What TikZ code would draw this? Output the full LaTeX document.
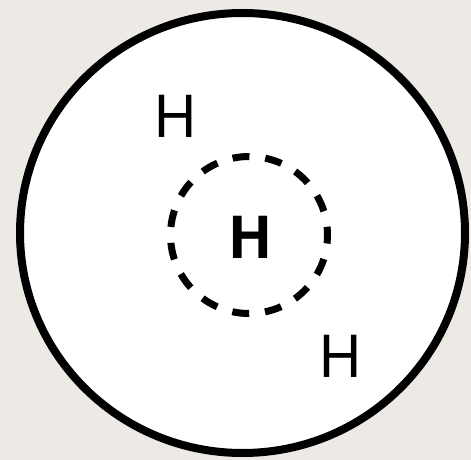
\documentclass[tikz,border=0pt]{standalone}
\usepackage{fontspec}
\setmainfont{TeX Gyre Heros}
\usetikzlibrary{positioning}
\definecolor{paperbg}{RGB}{237,234,229}

\begin{document}
\begin{tikzpicture}[x=1pt, y=-1pt,
    atom/.style={inner sep=0pt, font=\fontsize{58}{58}\selectfont},
    shell/.style={draw=black, line width=8pt, fill=white},
    core/.style={draw=black, line width=7pt, dash pattern=on 17pt off 15.9pt, dash phase=8.5pt}
]
\fill[paperbg] (0,0) rectangle (471,460);
\useasboundingbox (0,0) rectangle (471,460);

% outer shell and inner dashed core
\draw[shell] (242.5,233) ellipse [x radius=222.5, y radius=220];
\draw[core] (249,235) circle [radius=78.5];

\node[atom] (hcore) at (250.5,237) {\bfseries H};
\node[atom] (htop) at (175.5,116) {H};
\node[atom] (hbot) at (340.5,356) {H};
\end{tikzpicture}
\end{document}
